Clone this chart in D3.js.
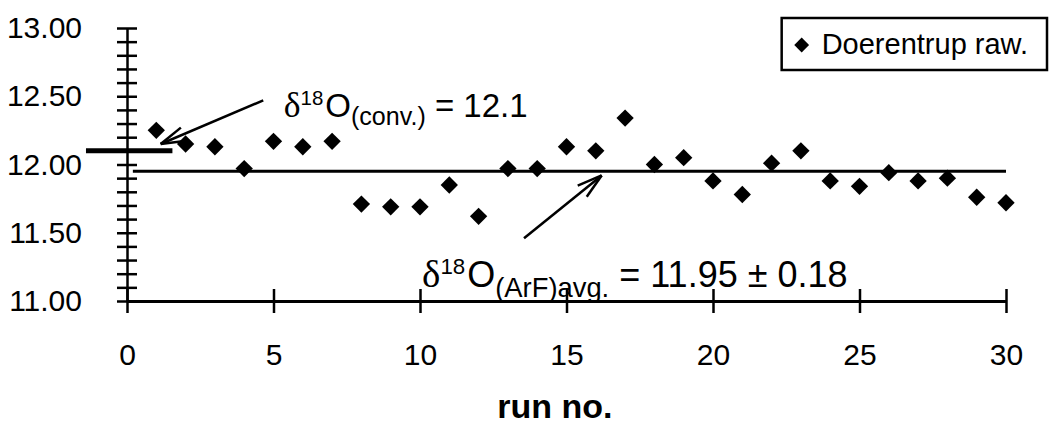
<!DOCTYPE html>
<html>
<head>
<meta charset="utf-8">
<script src="https://cdn.jsdelivr.net/npm/d3@7"></script>
<style>
  body { margin: 0; background: #fff; }
  svg { display: block; }
  .lbl { font-family: "Liberation Sans", Arial, sans-serif; fill: #000; }
</style>
</head>
<body>
<script>
'use strict';

// data
var runs = [1, 2, 3, 4, 5, 6, 7, 8, 9, 10, 11, 12, 13, 14, 15,
            16, 17, 18, 19, 20, 21, 22, 23, 24, 25, 26, 27, 28, 29, 30];
var delta = [12.25, 12.15, 12.13, 11.97, 12.17, 12.13, 12.17, 11.71, 11.69, 11.69,
             11.85, 11.62, 11.97, 11.97, 12.13, 12.10, 12.34, 12.00, 12.05, 11.88,
             11.78, 12.01, 12.10, 11.88, 11.84, 11.94, 11.88, 11.90, 11.76, 11.72];
var xTicks = [0, 5, 10, 15, 20, 25, 30];
var yTicks = [11.00, 11.50, 12.00, 12.50, 13.00];
var avgValue = 11.95;
var avgRange = [0.2, 30];
var convValue = 12.1;
var convRange = [-1.4, 1.55];
// arrows: [from run, from value, to run, to value]
var arrowConv = [4.65, 12.47, 1.15, 12.15];
var arrowAvg = [13.55, 11.46, 16.2, 11.92];

(function() {
  var W = 1051, H = 434;
  var svg = d3.select('body').append('svg')
    .attr('width', W)
    .attr('height', H);

  svg.append('rect').attr('width', W).attr('height', H).attr('fill', '#fff');

  var x = d3.scaleLinear().domain([0, 30]).range([127, 1006]);
  var y = d3.scaleLinear().domain([11, 13]).range([301, 28]);

  // y axis, minor ticks every 0.1 crossing the axis
  var minor = d3.range(110, 131).map(function(d) { return d / 10; });
  var yAxis = svg.append('g')
    .attr('transform', 'translate(' + x(0) + ',0)')
    .call(d3.axisLeft(y).tickValues(minor).tickSize(10).tickSizeOuter(0).tickPadding(35)
      .tickFormat(function(d) {
        return yTicks.some(function(t) { return Math.abs(t - d) < 1e-6; }) ? d3.format('.2f')(d) : '';
      }));
  yAxis.selectAll('line').attr('x1', 10).attr('stroke-width', 2.5);
  yAxis.select('.domain').attr('stroke-width', 2.5);
  yAxis.selectAll('text').attr('class', 'lbl').attr('font-size', 30);

  // x axis
  var xAxis = svg.append('g')
    .attr('transform', 'translate(0,' + y(11) + ')')
    .call(d3.axisBottom(x).tickValues(xTicks).tickSize(12).tickSizeOuter(0).tickPadding(31));
  xAxis.selectAll('line').attr('y1', -12).attr('stroke-width', 2.5);
  xAxis.select('.domain').attr('stroke-width', 3);
  xAxis.selectAll('text').attr('class', 'lbl').attr('font-size', 30);
  xAxis.selectAll('path, line').attr('stroke', '#000');
  yAxis.selectAll('path, line').attr('stroke', '#000');

  // x title
  svg.append('text')
    .attr('class', 'lbl')
    .attr('x', x(14.6))
    .attr('y', 418)
    .attr('text-anchor', 'middle')
    .attr('font-size', 34)
    .attr('font-weight', 'bold')
    .text('run no.');

  // average line
  svg.append('line')
    .attr('x1', x(avgRange[0])).attr('x2', x(avgRange[1]))
    .attr('y1', y(avgValue)).attr('y2', y(avgValue))
    .attr('stroke', '#000').attr('stroke-width', 3);

  // conventional value mark
  svg.append('line')
    .attr('x1', x(convRange[0])).attr('x2', x(convRange[1]))
    .attr('y1', y(convValue)).attr('y2', y(convValue))
    .attr('stroke', '#000').attr('stroke-width', 5);

  // points
  var diamond = d3.symbol().type(d3.symbolSquare).size(150);
  svg.append('g').selectAll('path')
    .data(runs)
    .enter()
    .append('path')
      .attr('d', diamond)
      .attr('fill', '#000')
      .attr('transform', function(d, i) {
        return 'translate(' + x(d) + ',' + y(delta[i]) + ') rotate(45)';
      });

  // arrows with open heads
  function arrow(a) {
    var x1 = x(a[0]), y1 = y(a[1]), x2 = x(a[2]), y2 = y(a[3]);
    var ang = Math.atan2(y2 - y1, x2 - x1);
    var len = 26, spread = 0.28;
    var g = svg.append('g').attr('stroke', '#000').attr('stroke-width', 2.5).attr('fill', 'none');
    g.append('line').attr('x1', x1).attr('y1', y1).attr('x2', x2).attr('y2', y2);
    [-spread, spread].forEach(function(s) {
      g.append('line')
        .attr('x1', x2).attr('y1', y2)
        .attr('x2', x2 - len * Math.cos(ang + s))
        .attr('y2', y2 - len * Math.sin(ang + s));
    });
  }
  arrow(arrowConv);
  arrow(arrowAvg);

  // annotation texts
  function annot(px, py, size, sub, rest) {
    var t = svg.append('text').attr('class', 'lbl').attr('x', px).attr('y', py).attr('font-size', size);
    t.append('tspan').attr('font-family', '"Liberation Serif", serif').attr('font-size', size * 1.08).text('\u03b4');
    t.append('tspan').attr('font-size', size * 0.62).attr('dy', -size * 0.36).text('18');
    t.append('tspan').attr('dx', 2).attr('dy', size * 0.36).text('O');
    t.append('tspan').attr('font-size', size * 0.76).attr('dy', size * 0.26).text(sub);
    t.append('tspan').attr('dy', -size * 0.26).text(rest);
  }
  annot(x(5.35), y(12.35), 33, '(conv.)', ' = 12.1');
  annot(x(10.07), y(11.1), 36, '(ArF)avg.', ' = 11.95 \u00b1 0.18');

  // legend
  var leg = svg.append('g');
  var legBox = leg.append('rect');
  var legText = leg.append('text')
    .attr('class', 'lbl')
    .attr('x', 1028)
    .attr('y', 54)
    .attr('text-anchor', 'end')
    .attr('font-size', 29)
    .text('Doerentrup raw.');
  var tx = 1028 - legText.node().getComputedTextLength();
  legBox
    .attr('x', tx - 40).attr('y', 18)
    .attr('width', 1047 - (tx - 40)).attr('height', 52)
    .attr('fill', '#fff').attr('stroke', '#000').attr('stroke-width', 2.5);
  leg.append('path')
    .attr('d', d3.symbol().type(d3.symbolSquare).size(110))
    .attr('transform', 'translate(' + (tx - 20) + ',45) rotate(45)')
    .attr('fill', '#000');
})();
</script>
</body>
</html>
